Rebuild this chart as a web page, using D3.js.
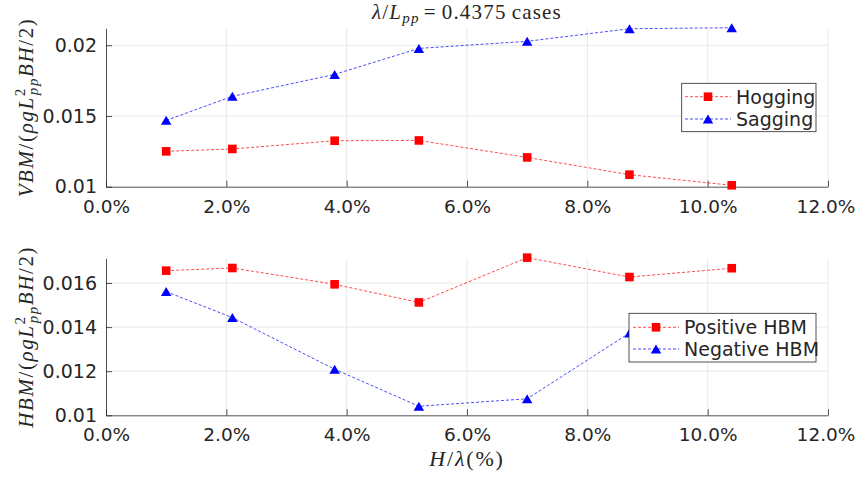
<!DOCTYPE html>
<html>
<head>
<meta charset="utf-8">
<script src="https://cdn.jsdelivr.net/npm/d3@7"></script>
<style>
  html, body { margin: 0; padding: 0; background: #fff; }
  svg { display: block; }
</style>
</head>
<body>
<svg id="chart" width="857" height="480"></svg>
<script>
// ---- data ----
const hRatio   = [1.0, 2.1, 3.8, 5.2, 7.0, 8.7, 10.4];          // H/lambda (%)
const hogging  = [0.0125, 0.01267, 0.01325, 0.01327, 0.01207, 0.01085, 0.0101];
const sagging  = [0.01469, 0.01639, 0.01794, 0.01978, 0.02028, 0.02117, 0.02124];
const posHBM   = [0.01656, 0.01668, 0.01594, 0.01512, 0.01715, 0.01627, 0.01667];
const negHBM   = [0.01561, 0.01443, 0.01209, 0.01041, 0.01075, 0.01373, 0.0142];
const xTicks   = [0, 2, 4, 6, 8, 10, 12];
const yTicksTop = [0.01, 0.015, 0.02];
const yTicksBot = [0.01, 0.012, 0.014, 0.016];
const yTickLabelsTop = ["0.01", "0.015", "0.02"];
const yTickLabelsBot = ["0.01", "0.012", "0.014", "0.016"];
const legendTop = ["Hogging", "Sagging"];
const legendBot = ["Positive HBM", "Negative HBM"];

const svg = d3.select("#chart");
const AX = "#262626";
const GRID = "#e3e3e3";
const SANS = "'DejaVu Sans', sans-serif";
const SERIF = "'Liberation Serif', 'DejaVu Serif', serif";
const RED = "#ff0000", BLUE = "#0000ff";
const TICKFS = "18.5px";

const x = d3.scaleLinear().domain([0, 12]).range([106, 828]);

function trianglePath(w, h) {
  return `M0,${-h/2}L${w/2},${h/2}L${-w/2},${h/2}Z`;
}

function panel(opts) {
  const y = d3.scaleLinear().domain(opts.ydom).range(opts.yrange);
  const g = svg.append("g");
  const y0 = opts.yrange[0], y1 = opts.yrange[1];

  // grid
  g.append("g").selectAll("line.vg").data(xTicks.slice(1)).join("line")
    .attr("x1", d => x(d)).attr("x2", d => x(d))
    .attr("y1", y0).attr("y2", y1)
    .attr("stroke", GRID).attr("stroke-width", 0.8);
  g.append("g").selectAll("line.hg").data(opts.yticks.slice(1)).join("line")
    .attr("x1", x(0)).attr("x2", x(12))
    .attr("y1", d => y(d)).attr("y2", d => y(d))
    .attr("stroke", GRID).attr("stroke-width", 0.8);

  // x axis
  const xa = g.append("g").attr("transform", `translate(0,${y0})`)
    .call(d3.axisBottom(x).tickValues(xTicks).tickSizeInner(-6).tickSizeOuter(0)
      .tickPadding(13).tickFormat(d => d.toFixed(1) + "%"));
  xa.select(".domain").attr("stroke", AX).attr("stroke-width", 0.8);
  xa.selectAll(".tick line").attr("stroke", AX).attr("stroke-width", 0.8);
  xa.selectAll("text").attr("fill", AX).style("font-family", SANS).style("font-size", TICKFS)
    .attr("dx", d => d === 12 ? -2.5 : 0);

  // y axis
  const ya = g.append("g").attr("transform", `translate(${x(0)},0)`)
    .call(d3.axisLeft(y).tickValues(opts.yticks).tickSizeInner(-6).tickSizeOuter(0)
      .tickPadding(9).tickFormat((d, i) => opts.ylabels[i]));
  ya.select(".domain").attr("stroke", AX).attr("stroke-width", 0.8);
  ya.selectAll(".tick line").attr("stroke", AX).attr("stroke-width", 0.8);
  ya.selectAll("text").attr("fill", AX).style("font-family", SANS).style("font-size", "19px");

  // series
  const line = d3.line().x((d, i) => x(hRatio[i])).y(d => y(d));
  opts.series.forEach(s => {
    g.append("path").datum(s.values)
      .attr("d", line).attr("fill", "none")
      .attr("stroke", s.color).attr("stroke-width", 1).attr("stroke-opacity", 0.7)
      .attr("stroke-dasharray", "3,2");
    const m = g.append("g").selectAll("path").data(s.values).join("path")
      .attr("transform", (d, i) => `translate(${x(hRatio[i])},${y(d)})`)
      .attr("fill", s.color);
    if (s.marker === "square") m.attr("d", "M-4.3,-4.3H4.3V4.3H-4.3Z");
    else m.attr("d", trianglePath(10.5, 9));
  });

  // legend
  const L = opts.legend;
  const lg = g.append("g");
  lg.append("rect").attr("x", L.x0).attr("y", L.y0)
    .attr("width", L.x1 - L.x0).attr("height", L.y1 - L.y0)
    .attr("fill", "#fff").attr("stroke", AX).attr("stroke-width", 0.8);
  opts.series.forEach((s, i) => {
    const ry = L.rows[i];
    lg.append("line").attr("x1", L.lx0).attr("x2", L.lx1).attr("y1", ry).attr("y2", ry)
      .attr("stroke", s.color).attr("stroke-width", 1).attr("stroke-opacity", 0.7)
      .attr("stroke-dasharray", "3,2");
    const mk = lg.append("path").attr("transform", `translate(${(L.lx0 + L.lx1) / 2},${ry})`)
      .attr("fill", s.color);
    if (s.marker === "square") mk.attr("d", "M-4.3,-4.3H4.3V4.3H-4.3Z");
    else mk.attr("d", trianglePath(10.5, 9));
    lg.append("text").attr("x", L.tx).attr("y", ry).attr("dy", "0.36em")
      .attr("fill", AX).style("font-family", SANS).style("font-size", "19px")
      .text(s.name);
  });

  // y label (math)
  const cy = (y0 + y1) / 2;
  const t = svg.append("text")
    .attr("transform", `translate(33,${cy}) rotate(-90)`)
    .attr("text-anchor", "middle")
    .attr("fill", AX).style("font-family", SERIF).style("font-size", "21px")
    .style("letter-spacing", "1.6px");
  t.append("tspan").style("font-style", "italic").text(opts.ylabelPrefix);
  t.append("tspan").text("/(");
  t.append("tspan").style("font-style", "italic").text("ρgL");
  t.append("tspan").attr("dy", -8).style("font-size", "15px").text("2");
  t.append("tspan").attr("dx", -8).attr("dy", 13).style("font-size", "15px").style("font-style", "italic").text("pp");
  t.append("tspan").attr("dy", -5).style("font-style", "italic").text("BH");
  t.append("tspan").text("/2)");
}

panel({
  ydom: [0.01, 0.0212], yrange: [186.7, 28.3],
  yticks: yTicksTop, ylabels: yTickLabelsTop,
  ylabelPrefix: "VBM",
  series: [
    { name: legendTop[0], values: hogging, color: RED, marker: "square" },
    { name: legendTop[1], values: sagging, color: BLUE, marker: "triangle" }
  ],
  legend: { x0: 681.7, x1: 816, y0: 83.3, y1: 131.7, rows: [96.7, 119], lx0: 685, lx1: 731, tx: 736 }
});

panel({
  ydom: [0.01, 0.01712], yrange: [415.3, 258.3],
  yticks: yTicksBot, ylabels: yTickLabelsBot,
  ylabelPrefix: "HBM",
  series: [
    { name: legendBot[0], values: posHBM, color: RED, marker: "square" },
    { name: legendBot[1], values: negHBM, color: BLUE, marker: "triangle" }
  ],
  legend: { x0: 629, x1: 816, y0: 313.3, y1: 362, rows: [327.3, 349], lx0: 633, lx1: 679, tx: 684 }
});

// title
const title = svg.append("text").attr("x", 467).attr("y", 19).attr("text-anchor", "middle")
  .attr("fill", AX).style("font-family", SERIF).style("font-size", "21px")
  .style("letter-spacing", "1.2px");
title.append("tspan").style("font-style", "italic").text("λ");
title.append("tspan").text("/");
title.append("tspan").style("font-style", "italic").text("L");
title.append("tspan").attr("dy", 4).style("font-size", "15px").style("font-style", "italic").text("pp");
title.append("tspan").attr("dy", -4).attr("dx", 4).text("=");
title.append("tspan").attr("dx", 5).text("0.4375");
title.append("tspan").attr("dx", 5).text("cases");

// x label
const xl = svg.append("text").attr("x", 467).attr("y", 466).attr("text-anchor", "middle")
  .attr("fill", AX).style("font-family", SERIF).style("font-size", "22px")
  .style("letter-spacing", "1.8px");
xl.append("tspan").style("font-style", "italic").text("H");
xl.append("tspan").text("/");
xl.append("tspan").style("font-style", "italic").text("λ");
xl.append("tspan").text("(%)");
</script>
</body>
</html>
